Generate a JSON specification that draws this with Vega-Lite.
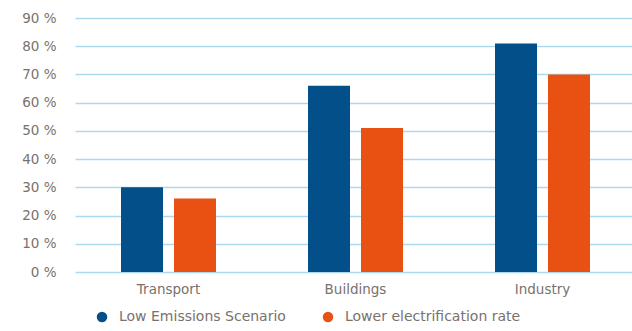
{
  "$schema": "https://vega.github.io/schema/vega-lite/v6.json",
  "autosize": {"type": "none"},
  "padding": {"left": 75, "top": 18, "right": 0, "bottom": 59},
  "width": 557,
  "height": 254,
  "background": "white",
  "data": {"values": [
    {"sector": "Transport", "scenario": "Low Emissions Scenario", "value": 30},
    {"sector": "Transport", "scenario": "Lower electrification rate", "value": 26},
    {"sector": "Buildings", "scenario": "Low Emissions Scenario", "value": 66},
    {"sector": "Buildings", "scenario": "Lower electrification rate", "value": 51},
    {"sector": "Industry", "scenario": "Low Emissions Scenario", "value": 81},
    {"sector": "Industry", "scenario": "Lower electrification rate", "value": 70}
  ]},
  "mark": {"type": "bar"},
  "encoding": {
    "x": {
      "field": "sector", "type": "nominal", "sort": ["Transport", "Buildings", "Industry"],
      "scale": {"paddingInner": 0, "paddingOuter": 0, "range": [0, 561]},
      "axis": {"title": null, "labelAngle": 0, "ticks": false, "domain": false, "labelPadding": 10,
               "labelFont": "DejaVu Sans", "labelFontSize": 13.5, "labelColor": "#7a716b"}
    },
    "xOffset": {
      "field": "scenario", "type": "nominal",
      "scale": {"paddingInner": 0.2075, "paddingOuter": 0.868}
    },
    "y": {
      "field": "value", "type": "quantitative",
      "scale": {"domain": [0, 90]},
      "axis": {"title": null, "values": [0,10,20,30,40,50,60,70,80,90], "labelExpr": "datum.value + ' %'",
               "ticks": false, "domain": false, "labelPadding": 19,
               "grid": true, "gridColor": "#acd9f0", "gridWidth": 1.5,
               "labelFont": "DejaVu Sans", "labelFontSize": 13.5, "labelColor": "#7a716b"}
    },
    "color": {
      "field": "scenario", "type": "nominal",
      "scale": {"domain": ["Low Emissions Scenario", "Lower electrification rate"], "range": ["#024f8a", "#e85112"]},
      "legend": {
        "title": null, "orient": "none", "direction": "horizontal",
        "legendX": 20, "legendY": 292,
        "symbolType": "circle", "symbolSize": 110, "symbolStrokeWidth": 0,
        "labelFont": "DejaVu Sans", "labelFontSize": 14, "labelColor": "#7a716b",
        "labelOffset": 10, "columnPadding": 35, "labelLimit": 300
      }
    }
  },
  "config": {"view": {"stroke": null}}
}
